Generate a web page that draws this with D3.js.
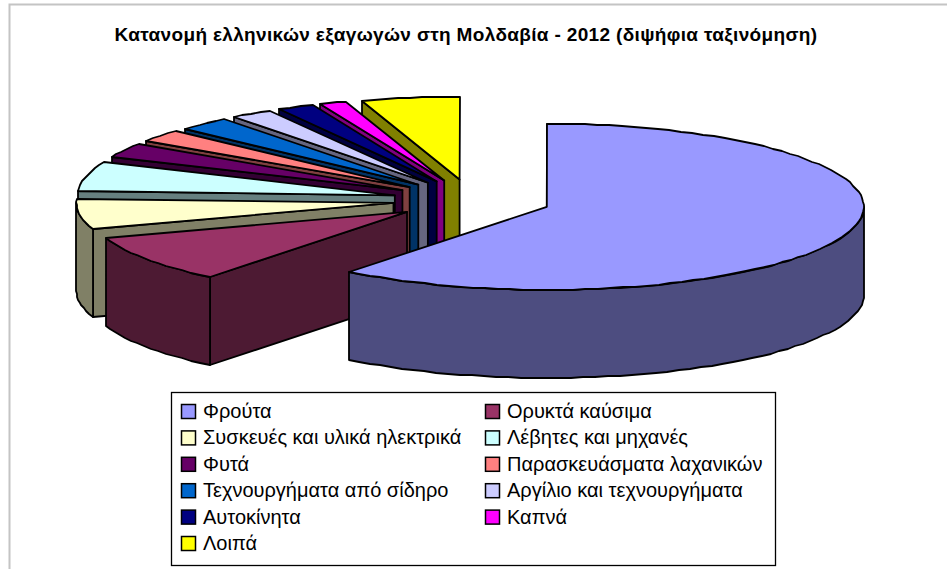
<!DOCTYPE html>
<html>
<head>
<meta charset="utf-8">
<script src="https://cdn.jsdelivr.net/npm/d3@7"></script>
<style>
html, body { margin: 0; padding: 0; background: #fff; }
svg { display: block; }
text { font-family: "Liberation Sans", Arial, sans-serif; fill: #000; }
</style>
</head>
<body>
<svg id="chart" width="947" height="569"></svg>
<script>
var titleText = "Κατανομή ελληνικών εξαγωγών στη Μολδαβία - 2012 (διψήφια ταξινόμηση)";
var categories = ["Φρούτα", "Ορυκτά καύσιμα", "Συσκευές και υλικά ηλεκτρικά", "Λέβητες και μηχανές", "Φυτά",
    "Παρασκευάσματα λαχανικών", "Τεχνουργήματα από σίδηρο", "Αργίλιο και τεχνουργήματα", "Αυτοκίνητα", "Καπνά", "Λοιπά"];
var shares = [60.7, 9.2, 5.9, 5.7, 2.9, 2.4, 2.7, 2.2, 1.9, 1.4, 5.0];
var colors = ["#9999ff", "#993366", "#ffffcc", "#ccffff", "#660066", "#ff8080", "#0066cc", "#ccccff", "#000080", "#ff00ff", "#ffff00"];

var cx = 472, cy = 200, rx = 317, ry = 83, depth = 88, explode = 0.25;

var svg = d3.select("svg#chart");

// frame
svg.append("path")
    .attr("d", "M9.5,569V4.5H947")
    .attr("fill", "none")
    .attr("stroke", "#c4c4c4")
    .attr("stroke-width", 2);

svg.append("text")
    .attr("x", 466)
    .attr("y", 41)
    .attr("text-anchor", "middle")
    .attr("font-size", 19)
    .attr("font-weight", "bold")
    .attr("letter-spacing", 0.34)
    .text(titleText);

var pie = d3.pie().sort(null).value(function(d){return d;});
var arcs = pie(shares);

var half = function(c){
    var r = d3.rgb(c);
    return d3.rgb(r.r / 2, r.g / 2, r.b / 2).formatHex();
};

// angle 0 is 12 o'clock, clockwise, squashed on the ellipse
var apex = function(a){
    var mid = (a.startAngle + a.endAngle) / 2;
    return [cx + explode * rx * Math.sin(mid), cy - explode * ry * Math.cos(mid)];
};
var rim = function(a, t){
    var p = apex(a);
    return [Math.round(p[0] + rx * Math.sin(t)), Math.round(p[1] - ry * Math.cos(t))];
};
var down = function(p){ return [p[0], p[1] + depth]; };
var rimPoints = function(a, from, to){
    var n = Math.max(2, Math.ceil((to - from) / 0.04));
    return d3.range(n + 1).map(function(i){ return rim(a, from + (to - from) * i / n); });
};

var line = d3.line().curve(d3.curveLinear);

var slices = svg.append("g").selectAll("g")
    .data(arcs.slice().reverse())
    .enter()
    .append("g")
    .attr("stroke", "#000")
    .attr("stroke-width", 1.8)
    .attr("stroke-linejoin", "round");

// cut face on the start side
slices.append("path")
    .attr("fill", function(d){ return half(colors[d.index]); })
    .attr("d", function(d){
        var p = apex(d), q = rim(d, d.startAngle);
        return line([p, q, down(q), down(p)]) + "Z";
    });

// outer wall, only the part that faces the viewer
slices.append("path")
    .attr("fill", function(d){ return half(colors[d.index]); })
    .attr("d", function(d){
        var from = Math.max(d.startAngle, Math.PI / 2);
        var to = Math.min(d.endAngle, 3 * Math.PI / 2);
        if (to <= from) return null;
        var top = rimPoints(d, from, to);
        return line(top.concat(top.slice().reverse().map(down))) + "Z";
    });

// top
slices.append("path")
    .attr("fill", function(d){ return colors[d.index]; })
    .attr("d", function(d){
        return line([apex(d)].concat(rimPoints(d, d.startAngle, d.endAngle))) + "Z";
    });

// legend
var rowY = d3.scalePoint().domain(d3.range(6)).range([411, 543]);
var colX = d3.scalePoint().domain([0, 1]).range([181, 485]);

svg.append("rect")
    .attr("x", 171.5)
    .attr("y", 392.5)
    .attr("width", 604)
    .attr("height", 173)
    .attr("fill", "#fff")
    .attr("stroke", "#000")
    .attr("stroke-width", 1.3);

var items = svg.append("g").selectAll("g")
    .data(categories)
    .enter()
    .append("g")
    .attr("transform", function(d, i){
        return "translate(" + colX(i % 2) + "," + rowY(Math.floor(i / 2)) + ")";
    });

items.append("rect")
    .attr("x", 0.5)
    .attr("y", -6.5)
    .attr("width", 14)
    .attr("height", 14)
    .attr("fill", function(d, i){ return colors[i]; })
    .attr("stroke", "#000")
    .attr("stroke-width", 1.5);

items.append("text")
    .attr("x", 22)
    .attr("y", 7)
    .attr("font-size", 20)
    .text(function(d){ return d; });
</script>
</body>
</html>
